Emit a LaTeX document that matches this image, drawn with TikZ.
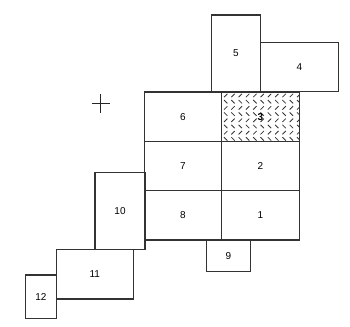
\documentclass[tikz,border=0pt]{standalone}
\usepackage{fontspec}
\setmainfont{Liberation Sans}
\tikzset{
  box/.style={draw=black!80, line width=1.2pt, rectangle, inner sep=0pt,
    font=\fontsize{10}{12}\selectfont},
  hatchmark/.style={black!80, line width=0.8pt}
}
\begin{document}
\begin{tikzpicture}[x=1pt, y=-1pt]
	\useasboundingbox (0,0) rectangle (350,326);
	% grid of six rooms
	\node[box, minimum width=77.4pt, minimum height=49.3pt] (b6) at (183,116.6) {6};
	\node[box, minimum width=77.4pt, minimum height=49.3pt] (b3) at (260.4,116.6) {};
	\node[box, minimum width=77.4pt, minimum height=49.3pt] (b7) at (183,165.9) {7};
	\node[box, minimum width=77.4pt, minimum height=49.3pt] (b2) at (260.4,165.9) {2};
	\node[box, minimum width=77.4pt, minimum height=49.3pt] (b8) at (183,215.3) {8};
	\node[box, minimum width=77.4pt, minimum height=49.3pt] (b1) at (260.4,215.3) {1};
	% hatching of room 3
	\begin{scope}
		\clip (b3.north west) rectangle (b3.south east);
		\foreach \j in {0,...,7} {
			\foreach \i in {0,...,10} {
				\pgfmathsetmacro{\xx}{224+7.3*\i}
				\pgfmathsetmacro{\yy}{95.5+6.2*\j}
				\ifodd\j
					\draw[hatchmark] (\xx,\yy-1.7) -- (\xx+3.4,\yy+1.7);
				\else
					\draw[hatchmark] (\xx,\yy+1.7) -- (\xx+3.4,\yy-1.7);
				\fi
			}
		}
	\end{scope}
	\node[font=\fontsize{10}{12}\selectfont\bfseries] (l3) at (b3.center) {3};
	% outer rooms
	\node[box, minimum width=48.6pt, minimum height=76.7pt] (b5) at (236,53.3) {5};
	\node[box, minimum width=78pt, minimum height=49.4pt] (b4) at (299.3,67) {4};
	\node[box, minimum width=43.6pt, minimum height=31.7pt] (b9) at (228.5,255.8) {9};
	\node[box, minimum width=50pt, minimum height=76.6pt] (b10) at (120,211) {10};
	\node[box, minimum width=77pt, minimum height=49.7pt] (b11) at (94.8,274.2) {11};
	\node[box, minimum width=30.6pt, minimum height=43.3pt] (b12) at (41,296.7) {12};
	% cross
	\coordinate (cr) at (100.7,103.5);
	\draw[black!85, line width=1.1pt] ([xshift=-9pt]cr) -- ([xshift=9pt]cr);
	\draw[black!85, line width=1.1pt] ([yshift=-9pt]cr) -- ([yshift=9pt]cr);
\end{tikzpicture}
\end{document}
